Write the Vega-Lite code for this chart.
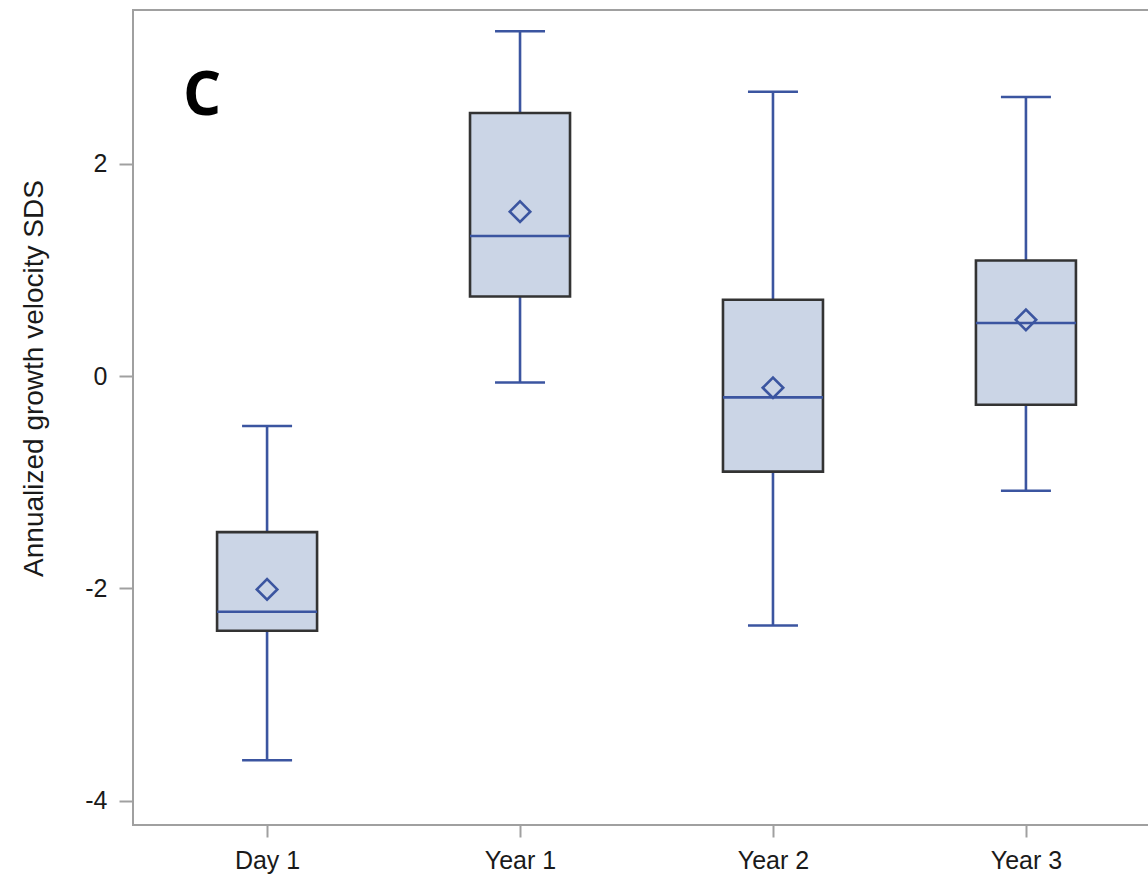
{
  "$schema": "https://vega.github.io/schema/vega-lite/v6.json",
  "autosize": "none",
  "width": 1027,
  "height": 815,
  "padding": {"left": 133, "top": 10, "right": 0, "bottom": 58},
  "background": "white",
  "config": {
    "view": {"stroke": "#a0a0a0", "strokeWidth": 2},
    "font": "Liberation Sans"
  },
  "title": {
    "text": "C",
    "anchor": "start",
    "frame": "group",
    "orient": "top",
    "offset": 0,
    "dx": 50,
    "dy": 165,
    "baseline": "alphabetic",
    "font": "Open Sans",
    "fontSize": 60,
    "fontWeight": "bold",
    "color": "#000000"
  },
  "data": {
    "values": [
      {"group": "Day 1", "lo": -3.62, "q1": -2.4, "med": -2.22, "q3": -1.47, "hi": -0.47, "mean": -2.01},
      {"group": "Year 1", "lo": -0.06, "q1": 0.75, "med": 1.32, "q3": 2.48, "hi": 3.25, "mean": 1.55},
      {"group": "Year 2", "lo": -2.35, "q1": -0.9, "med": -0.2, "q3": 0.72, "hi": 2.68, "mean": -0.11},
      {"group": "Year 3", "lo": -1.08, "q1": -0.27, "med": 0.5, "q3": 1.09, "hi": 2.63, "mean": 0.53}
    ]
  },
  "encoding": {
    "x": {
      "field": "group",
      "type": "nominal",
      "sort": null,
      "scale": {"type": "point", "padding": 0.53},
      "axis": {
        "title": null,
        "domain": false,
        "labelAngle": 0,
        "labelFontSize": 25,
        "labelColor": "#1a1a1a",
        "labelPadding": 11,
        "tickSize": 12,
        "tickWidth": 2,
        "tickColor": "#a0a0a0"
      }
    }
  },
  "layer": [
    {
      "mark": {"type": "rule", "color": "#3b55a0", "strokeWidth": 2.6},
      "encoding": {
        "y": {
          "field": "lo",
          "type": "quantitative",
          "scale": {"domain": [-4.23, 3.45], "nice": false, "zero": false},
          "axis": {
            "values": [-4, -2, 0, 2],
            "labelExpr": "toString(datum.value)",
            "title": "Annualized growth velocity SDS",
            "titleFontSize": 28,
            "titleFontWeight": "normal",
            "titleColor": "#1a1a1a",
            "titleAngle": -90,
            "titleX": -99,
            "titleY": 368,
            "titleAlign": "center",
            "titleBaseline": "middle",
            "domain": false,
            "grid": false,
            "labelFontSize": 25,
            "labelColor": "#1a1a1a",
            "labelPadding": 12,
            "tickSize": 14,
            "tickWidth": 2,
            "tickColor": "#a0a0a0"
          }
        },
        "y2": {"field": "q1"}
      }
    },
    {
      "mark": {"type": "rule", "color": "#3b55a0", "strokeWidth": 2.6},
      "encoding": {
        "y": {"field": "q3", "type": "quantitative"},
        "y2": {"field": "hi"}
      }
    },
    {
      "mark": {"type": "tick", "color": "#3b55a0", "size": 50, "thickness": 2.6, "opacity": 1},
      "encoding": {"y": {"field": "lo", "type": "quantitative"}}
    },
    {
      "mark": {"type": "tick", "color": "#3b55a0", "size": 50, "thickness": 2.6, "opacity": 1},
      "encoding": {"y": {"field": "hi", "type": "quantitative"}}
    },
    {
      "mark": {"type": "bar", "width": 100, "fill": "#cbd5e6", "stroke": "#333333", "strokeWidth": 2.6},
      "encoding": {
        "y": {"field": "q1", "type": "quantitative"},
        "y2": {"field": "q3"}
      }
    },
    {
      "mark": {"type": "tick", "color": "#3b55a0", "size": 100, "thickness": 2.6, "opacity": 1},
      "encoding": {"y": {"field": "med", "type": "quantitative"}}
    },
    {
      "mark": {"type": "point", "shape": "diamond", "filled": false, "size": 420, "color": "#3b55a0", "strokeWidth": 2.6, "opacity": 1},
      "encoding": {"y": {"field": "mean", "type": "quantitative"}}
    }
  ]
}
